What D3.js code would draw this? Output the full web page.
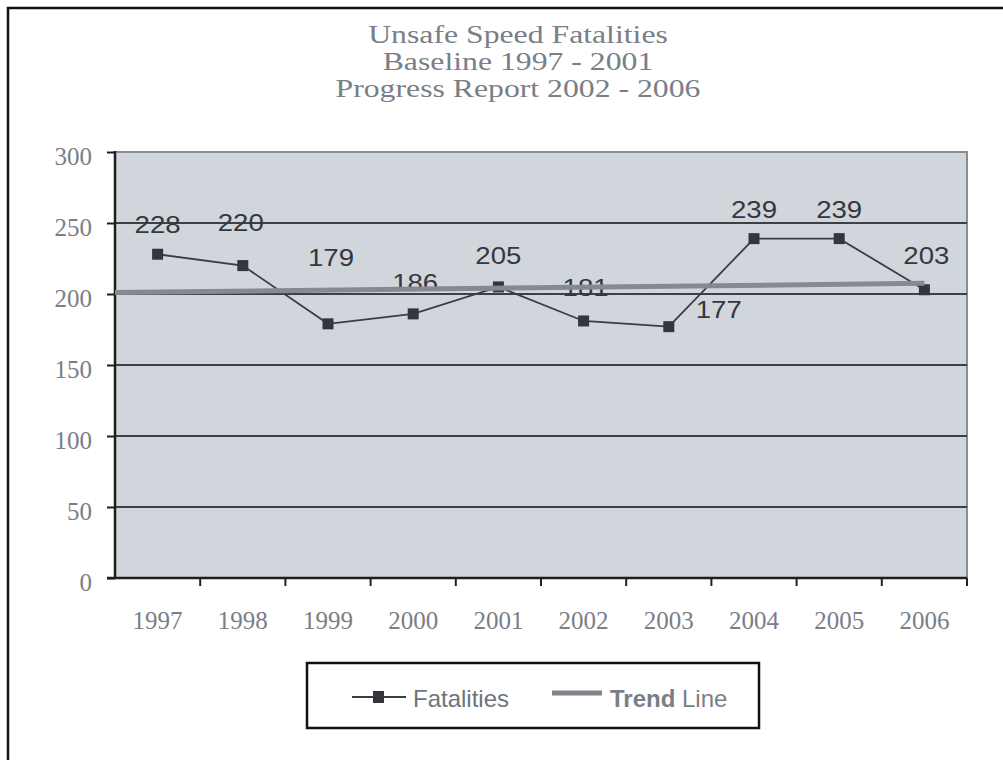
<!DOCTYPE html>
<html>
<head>
<meta charset="utf-8">
<script src="https://cdn.jsdelivr.net/npm/d3@7"></script>
<style>
  body { margin: 0; background: #fff; }
  .serif { font-family: "Liberation Serif", "Times New Roman", serif; fill: #7a7e86; }
  .sans { font-family: "Liberation Sans", Arial, sans-serif; }
</style>
</head>
<body>
<div id="chart"></div>
<script>
// data
const years = ["1997", "1998", "1999", "2000", "2001", "2002", "2003", "2004", "2005", "2006"];
const fatalities = [228, 220, 179, 186, 205, 181, 177, 239, 239, 203];
const trendEnds = [201, 207.5];   // trend line value at the left axis and at 2006
const yTicks = [0, 50, 100, 150, 200, 250, 300];
const titleLines = ["Unsafe Speed  Fatalities", "Baseline 1997 - 2001", "Progress Report 2002 - 2006"];

// label nudges (px) so the labels sit where the original put them
const labelNudge = [[0, -30], [-2, -43], [3, -66], [2, -31], [0, -31], [2, -33], [50, -17], [0, -29], [0, -29], [2, -34]];

const width = 1003, height = 760;
const margin = {top: 152, left: 115, right: 36, bottom: 182};

const svg = d3.select("#chart")
    .append("svg")
    .attr("width", width)
    .attr("height", height);

// outer frame (only top and left show in the picture)
svg.append("rect")
    .attr("x", 8).attr("y", 8)
    .attr("width", width + 20).attr("height", height + 20)
    .attr("fill", "none")
    .attr("stroke", "#111")
    .attr("stroke-width", 2.5);

// title, the scan is stretched sideways so the text is too
svg.selectAll(".title")
    .data(titleLines)
    .enter()
    .append("text")
    .attr("class", "serif title")
    .attr("transform", function(d, i) { return `translate(518,${43 + i * 27}) scale(1.27,1)`; })
    .attr("text-anchor", "middle")
    .attr("font-size", 25)
    .text(function(d) { return d; });

// scales
const x = d3.scaleBand()
    .domain(years)
    .range([margin.left, width - margin.right]);

const y = d3.scaleLinear()
    .domain([0, 300])
    .range([height - margin.bottom, margin.top]);

const xc = function(d) { return x(d) + x.bandwidth() / 2; };

// plot background
svg.append("rect")
    .attr("x", margin.left)
    .attr("y", margin.top)
    .attr("width", width - margin.right - margin.left)
    .attr("height", height - margin.bottom - margin.top)
    .attr("fill", "#d1d5dc")
    .attr("stroke", "#8a8d94")
    .attr("stroke-width", 2);

// gridlines
svg.append("g")
    .selectAll("line")
    .data(yTicks.filter(function(d) { return d > 0 && d < 300; }))
    .enter()
    .append("line")
    .attr("x1", margin.left)
    .attr("x2", width - margin.right)
    .attr("y1", function(d) { return y(d); })
    .attr("y2", function(d) { return y(d); })
    .attr("stroke", "#3e4046")
    .attr("stroke-width", 1.8);

// axes
const yAxis = svg.append("g")
    .attr("transform", `translate(${margin.left},0)`)
    .call(d3.axisLeft(y).tickValues(yTicks).tickSize(8).tickPadding(15));

const xAxis = svg.append("g")
    .attr("transform", `translate(0,${height - margin.bottom})`)
    .call(d3.axisBottom(x).tickSize(0).tickPadding(33));

// x tick marks sit on the band edges
svg.append("g")
    .selectAll("line")
    .data(years)
    .enter()
    .append("line")
    .attr("x1", function(d) { return x(d) + x.bandwidth(); })
    .attr("x2", function(d) { return x(d) + x.bandwidth(); })
    .attr("y1", height - margin.bottom)
    .attr("y2", height - margin.bottom + 8)
    .attr("stroke", "#222")
    .attr("stroke-width", 2);

[yAxis, xAxis].forEach(function(ax) {
    ax.select(".domain").attr("stroke", "#1e1e1e").attr("stroke-width", 2.5);
    ax.selectAll(".tick line").attr("stroke", "#1e1e1e").attr("stroke-width", 2);
    ax.selectAll("text")
        .attr("class", "serif")
        .attr("font-size", 25)
        .attr("fill", "#7a7e86");
});
yAxis.selectAll("text").attr("dy", "0.5em");
yAxis.select(".domain").attr("d", `M0,${height - margin.bottom}V${margin.top - 1}`);
xAxis.select(".domain").attr("d", `M${margin.left - 8},0H${width - margin.right}`);

// fatalities line
const line = d3.line()
    .x(function(d, i) { return xc(years[i]); })
    .y(function(d) { return y(d); });

svg.append("path")
    .datum(fatalities)
    .attr("d", line)
    .attr("fill", "none")
    .attr("stroke", "#3b3d42")
    .attr("stroke-width", 1.8);

svg.selectAll(".marker")
    .data(fatalities)
    .enter()
    .append("rect")
    .attr("class", "marker")
    .attr("x", function(d, i) { return xc(years[i]) - 5.5; })
    .attr("y", function(d) { return y(d) - 5.5; })
    .attr("width", 11)
    .attr("height", 11)
    .attr("fill", "#34363b");

// value labels
svg.selectAll(".vlabel")
    .data(fatalities)
    .enter()
    .append("text")
    .attr("class", "sans vlabel")
    .attr("transform", function(d, i) {
        return `translate(${xc(years[i]) + labelNudge[i][0]},${y(d) + labelNudge[i][1]}) scale(1.15,1)`;
    })
    .attr("dy", "0.35em")
    .attr("text-anchor", "middle")
    .attr("font-size", 24)
    .attr("fill", "#35373c")
    .text(function(d) { return d; });

// trend line lies over the labels in the original
svg.append("line")
    .attr("x1", margin.left)
    .attr("x2", xc(years[years.length - 1]))
    .attr("y1", y(trendEnds[0]))
    .attr("y2", y(trendEnds[1]))
    .attr("stroke", "#858991")
    .attr("stroke-width", 5);

// legend
const lg = svg.append("g").attr("transform", "translate(307,663)");

lg.append("rect")
    .attr("width", 452)
    .attr("height", 65)
    .attr("fill", "#fff")
    .attr("stroke", "#111")
    .attr("stroke-width", 2.5);

lg.append("line")
    .attr("x1", 45).attr("x2", 99)
    .attr("y1", 34).attr("y2", 34)
    .attr("stroke", "#3b3d42")
    .attr("stroke-width", 2);

lg.append("rect")
    .attr("x", 66).attr("y", 28)
    .attr("width", 11).attr("height", 12)
    .attr("fill", "#34363b");

lg.append("text")
    .attr("class", "sans")
    .attr("x", 106)
    .attr("y", 44)
    .attr("font-size", 24)
    .attr("fill", "#6f737b")
    .text("Fatalities");

lg.append("line")
    .attr("x1", 245).attr("x2", 295)
    .attr("y1", 30).attr("y2", 30)
    .attr("stroke", "#7f838b")
    .attr("stroke-width", 5);

const tt = lg.append("text")
    .attr("class", "sans")
    .attr("x", 303)
    .attr("y", 44)
    .attr("font-size", 24)
    .attr("fill", "#7a7e86");
tt.append("tspan").attr("font-weight", "bold").text("Trend");
tt.append("tspan").text(" Line");
</script>
</body>
</html>
